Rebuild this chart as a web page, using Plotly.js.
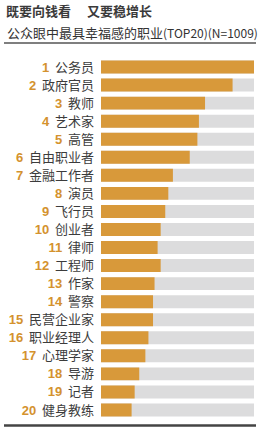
<!DOCTYPE html>
<html><head><meta charset="utf-8">
<script src="https://cdn.plot.ly/plotly-3.0.1.min.js"></script>
<style>html,body{margin:0;padding:0;background:#fff;}#chart{width:262px;height:427px;}</style>
</head><body><div id="chart"></div>
<script>
const ranks = [1,2,3,4,5,6,7,8,9,10,11,12,13,14,15,16,17,18,19,20];
const jobs = ["公务员","政府官员","教师","艺术家","高管","自由职业者","金融工作者","演员","飞行员","创业者","律师","工程师","作家","警察","民营企业家","职业经理人","心理学家","导游","记者","健身教练"];
const values = [100,86,68,64,63,58,47,44,42,39,37,39,35,34,34,31,29,25,22,20];
const maxValue = 100;

const W=262,H=427, L=101, R=8, T=58, B=8;
const pw=W-L-R, ph=H-T-B;
const px=x=>(x-L)/pw, py=y=>(H-B-y)/ph;

const cats = jobs.map((j,i)=>'c'+i);
const ticktext = jobs.map((j,i)=>'<span style="color:#d4922e;font-family:Liberation Sans,Arial;font-weight:bold;font-size:13px">'+ranks[i]+'</span>  '+j);

const track = {type:'bar',orientation:'h',y:cats,x:cats.map(()=>maxValue),marker:{color:'#dcdcdd'},hoverinfo:'skip'};
const bars = {type:'bar',orientation:'h',y:cats,x:values,marker:{color:'#d8993a'},hoverinfo:'skip'};

const layout = {
  width:W,height:H,margin:{l:L,r:R,t:T,b:B},
  paper_bgcolor:'#fff',plot_bgcolor:'#fff',
  barmode:'overlay',bargap:0.28,showlegend:false,
  font:{family:'Noto Sans CJK SC',color:'#333',size:12.5},
  xaxis:{range:[0,maxValue],visible:false,fixedrange:true},
  yaxis:{autorange:'reversed',tickvals:cats,ticktext:ticktext,showgrid:false,zeroline:false,showline:false,ticks:'',ticklabelstandoff:6,tickfont:{size:13,color:'#3c3c3c'}},
  shapes:[
    {type:'line',xref:'paper',yref:'paper',x0:px(4),x1:px(256),y0:py(43),y1:py(43),line:{color:'#555',width:1.5}},
    {type:'line',xref:'paper',yref:'paper',x0:px(4),x1:px(256),y0:py(425.5),y1:py(425.5),line:{color:'#444',width:2.5}}
  ],
  annotations:[
    {xref:'paper',yref:'paper',x:px(4),y:py(11),xanchor:'left',yanchor:'middle',showarrow:false,text:'<b>既要向钱看</b>　 <b>又要稳增长</b>',font:{size:13,color:'#3a3a3a'}},
    {xref:'paper',yref:'paper',x:px(5),y:py(32),xanchor:'left',yanchor:'middle',showarrow:false,text:'公众眼中最具幸福感的职业<span style="font-size:12px">(TOP20)(N=1009)</span>',font:{size:13,color:'#333'}}
  ]
};
Plotly.newPlot('chart',[track,bars],layout,{displayModeBar:false,staticPlot:true});
</script></body></html>
